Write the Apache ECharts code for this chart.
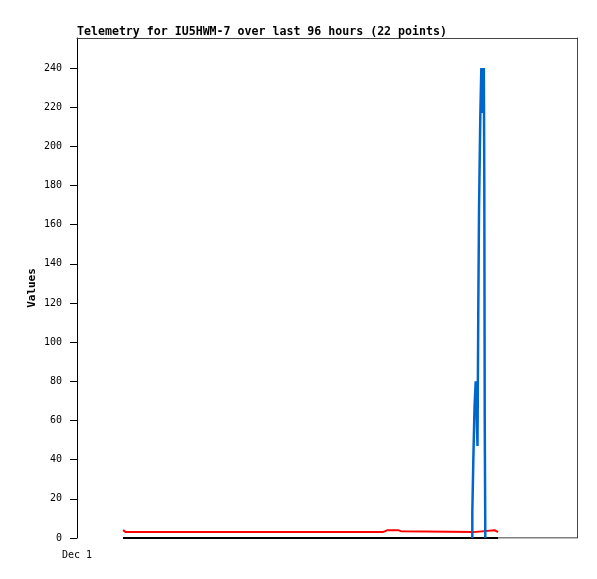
<!DOCTYPE html>
<html>
<head>
<meta charset="utf-8">
<script src="https://cdn.jsdelivr.net/npm/echarts@6/dist/echarts.min.js"></script>
<style>html,body{margin:0;padding:0;background:#fff;}#c{width:597px;height:579px;}</style>
</head>
<body>
<div id="c"></div>
<script>
// hours since Dec 1 00:00
const titleText = 'Telemetry for IU5HWM-7 over last 96 hours (22 points)';
const yTicks = [0, 20, 40, 60, 80, 100, 120, 140, 160, 180, 200, 220, 240];
const xLabelText = 'Dec 1';

const blueSeries = [
  [101.20, 0], [101.20, 13], [101.46, 40], [101.77, 67], [102.07, 80], [102.28, 72],
  [102.40, 57], [102.53, 47], [102.74, 120], [102.92, 168], [103.25, 216], [103.51, 240],
  [103.65, 217], [103.75, 240], [103.85, 218], [103.95, 240], [104.05, 217], [104.15, 240],
  [104.27, 180], [104.38, 60], [104.53, 0]
];
const redSeries = [
  [11.78, 4], [12.1, 3.5], [12.5, 3], [78.26, 3], [78.9, 3.5], [79.5, 4], [82.2, 4],
  [82.9, 3.5], [83.4, 3], [101.46, 3], [101.9, 4], [106.9, 4], [107.4, 3.5], [107.8, 3]
];
const blackSeries = [[11.78, 0], [107.8, 0]];
const baseSeries = [[11.78, 0], [128, 0]];

const FONT = 'DejaVu Sans Mono';
const chart = echarts.init(document.getElementById('c'), null, {renderer: 'canvas'});
chart.setOption({
  animation: false,
  backgroundColor: '#fff',
  title: {
    text: titleText, left: 77, top: 26, padding: 0,
    textStyle: {fontFamily: FONT, fontSize: 11.6, fontWeight: 'bold', color: '#000'}
  },
  grid: {left: 77, right: 20, top: 38, bottom: 41},
  xAxis: [{
    type: 'value', min: 0, max: 128, interval: 128,
    axisLine: {show: false}, axisTick: {show: false}, splitLine: {show: false},
    axisLabel: {
      showMaxLabel: false, margin: 12,
      fontFamily: FONT, fontSize: 10, color: '#000',
      formatter: v => (v === 0 ? xLabelText : '')
    }
  }, {
    type: 'value', position: 'top', min: 0, max: 128,
    axisLine: {show: true, onZero: false, lineStyle: {color: '#444', width: 1}},
    axisTick: {show: false}, axisLabel: {show: false}, splitLine: {show: false}
  }],
  yAxis: [{
    type: 'value', min: 0, max: 255.3, interval: 20,
    name: 'Values', nameLocation: 'middle', nameGap: 39, nameRotate: 90,
    nameMoveOverlap: false,
    nameTextStyle: {fontFamily: FONT, fontSize: 11, fontWeight: 'bold', color: '#000'},
    axisLine: {show: true, onZero: false, lineStyle: {color: '#000', width: 1}},
    axisTick: {show: true, length: 7, lineStyle: {color: '#000'}, customValues: yTicks},
    axisLabel: {margin: 15, fontFamily: FONT, fontSize: 10, color: '#000', customValues: yTicks},
    splitLine: {show: false}
  }, {
    type: 'value', position: 'right', min: 0, max: 1,
    axisLine: {show: true, onZero: false, lineStyle: {color: '#444', width: 1}},
    axisTick: {show: false}, axisLabel: {show: false}, splitLine: {show: false}
  }],
  series: [
    {type: 'line', data: baseSeries, symbol: 'none', lineStyle: {color: '#000', width: 1}, z: 1},
    {type: 'line', data: blackSeries, symbol: 'none', lineStyle: {color: '#000', width: 2}, z: 2},
    {type: 'line', data: redSeries, symbol: 'none', lineStyle: {color: '#ff0000', width: 2}, z: 3},
    {type: 'line', data: blueSeries, step: 'end', symbol: 'none', lineStyle: {color: '#0066cc', width: 2.5}, z: 4}
  ]
});
</script>
</body>
</html>
